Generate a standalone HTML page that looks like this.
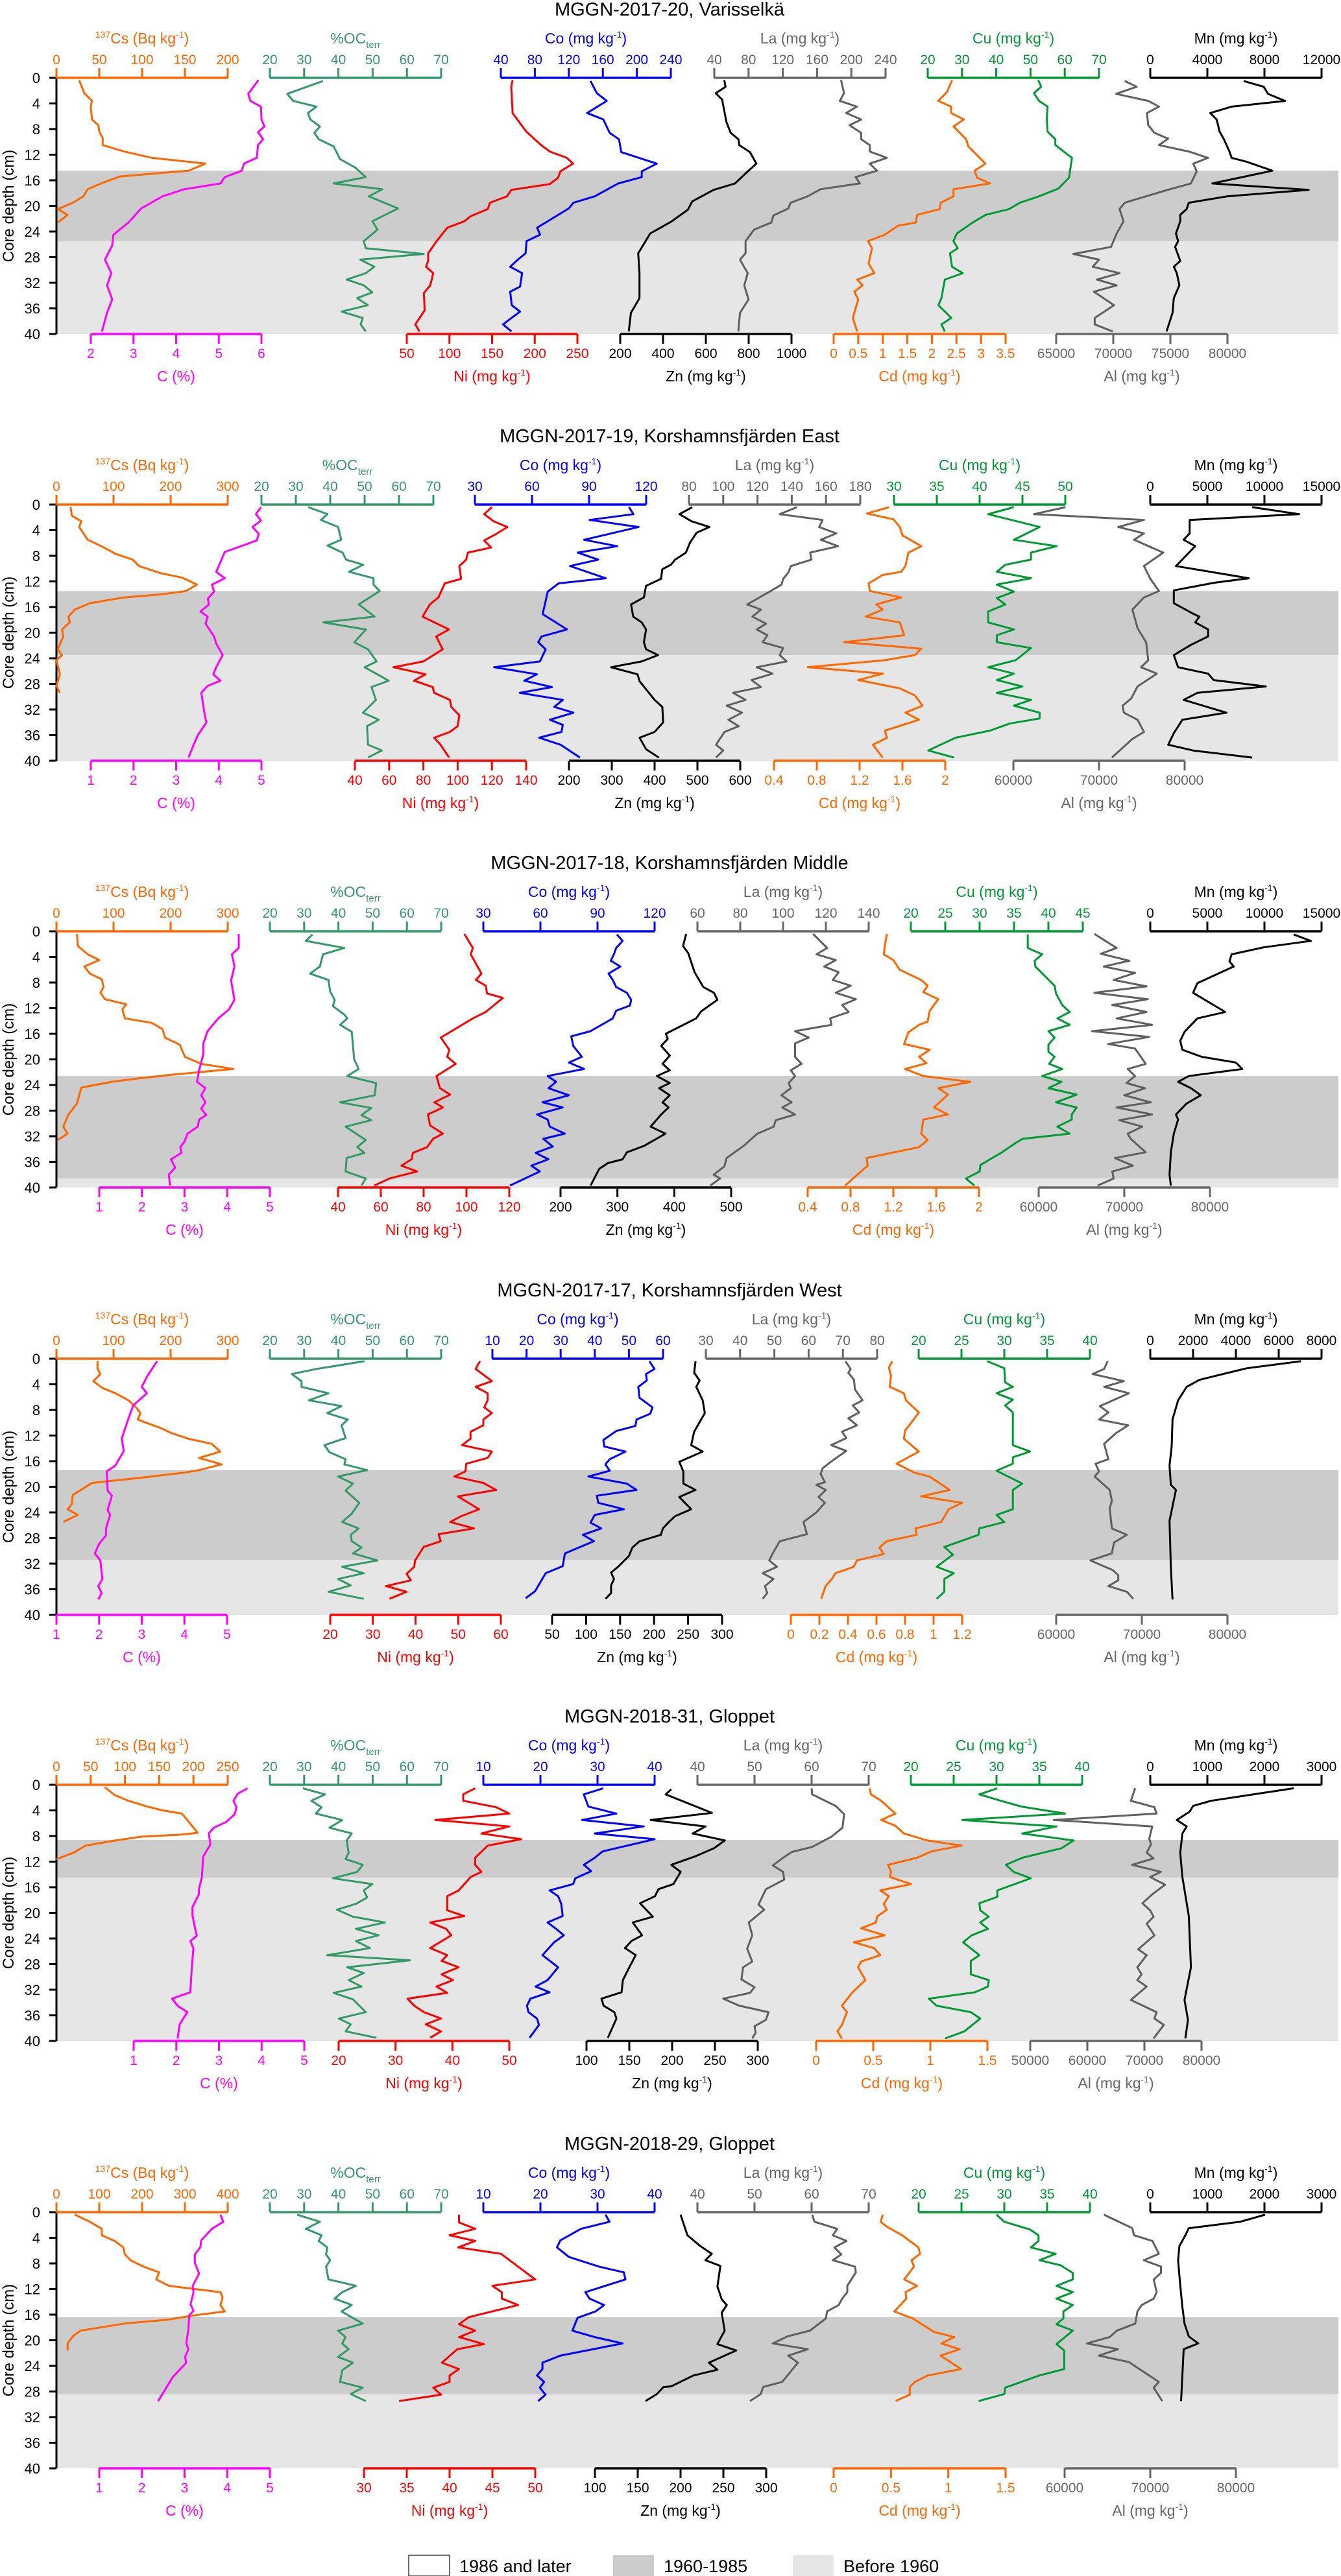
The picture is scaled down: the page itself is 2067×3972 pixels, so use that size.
<!DOCTYPE html>
<html><head><meta charset="utf-8"><title>Core profiles</title>
<style>
html,body{margin:0;padding:0;background:#fff;}
svg{display:block;}
text{font-family:"Liberation Sans",sans-serif;}
</style></head>
<body>
<svg id="chart" xmlns="http://www.w3.org/2000/svg" width="2067" height="3972" viewBox="0 0 2067 3972"></svg>
<script>
// ---------------- DATA (depth in cm, values in axis units) ----------------
// Panel 1 MGGN-2017-20
const P1_CS_D=[0.35,2.4,3.6,4.5,6.5,7.4,8.4,9.4,10.5,11.5,12.5,13.4,14.5,15.4,16.4,17.4,18.5,19.5,20.5,21.4,22.6];
const P1_CS_V=[26.5,32.5,41.5,40,41.5,49,50,54,54,79,111.5,174,154,74,54,36.5,31.5,19,1.5,13,1.5];
const P1_C_D=[0.35,2.5,3.6,4.5,6.5,7.6,8.5,9.6,10.5,12.5,13.4,14.5,15.5,16.5,17.4,18.5,20.4,22.6,24.5,26.2,28.4,30.5,32.4,34.6,36.7,39.6];
const P1_C_V=[5.93,5.69,5.74,5.99,6.0,6.07,5.92,6.04,5.92,5.89,5.59,5.54,5.14,5.04,4.19,3.68,3.18,2.88,2.53,2.5,2.33,2.48,2.38,2.5,2.38,2.26];
const P1_OC_D=[0.5,2.5,3.6,4.5,5.5,6.5,7.6,8.6,9.6,10.7,12.7,14,15.5,16.5,17.4,18.5,20.4,22.4,23.7,25.5,26.6,27.5,28.4,29.5,30.5,31.5,32.4,33.5,34.4,35.5,36.5,37.5,38.5,39.6];
const P1_OC_V=[35.5,25.1,26.8,33.6,31.1,31.8,34.6,33,34.3,38.6,40.5,44.9,48,38.6,52.8,48.9,57.4,49.9,51.4,47.4,48,64.9,46.4,50.5,48,42.4,47.4,49.9,45.5,48.6,40.9,47.1,46.5,48];
const P1_NI_D=[0.35,1.4,5.5,8.4,10.5,11.5,12.5,13.4,14.6,15.6,16.6,17.5,18.5,19.5,20.5,21.6,22.4,23.4,25.5,27.4,28.6,29.5,30.5,32.4,33.6,36.3,37.5,38.5,39.6];
const P1_NI_V=[174,172.5,174,190,207.5,217.5,237.5,245,230,227.5,217.5,172.5,167.5,147.5,145,125,117.5,97.5,85,75,75,72.5,81,77.5,70,71,65,60,65];
const P1_CO_D=[0.5,2.4,3.6,5.5,6.5,8.6,9.6,11.6,13.4,14.6,15.5,16.5,18.5,19.5,20.4,23.4,24.5,25.5,27.4,28.4,29.5,30.5,32.6,33.4,35.5,36.5,38.5,39.6];
const P1_CO_V=[145.5,153,164.6,141.5,160.6,168,179,181.7,223.4,205.8,205.8,178,150.5,125.4,120,82.7,86.2,70.2,69.1,60,51,65,62.6,51,52.8,62.6,42.5,52.5];
const P1_ZN_D=[0.35,1.4,2.4,3.4,6.9,8.6,9.6,10.5,11.6,13.4,14.6,16.5,17.5,19.3,20.6,22.5,24.3,27.4,30.5,34.4,36.7,39.6];
const P1_ZN_V=[686,692,646,676,696,716,752,756,806,836,796,736,636,536,516,436,340,284,290,290,250,240];
const P1_LA_D=[0.35,2.4,3.6,4.5,5.5,6.5,7.4,8.6,9.6,10.5,11.5,12.5,13.4,14.5,15.5,16.5,17.4,18.5,19.5,20.4,21.5,22.6,23.7,25.5,27.4,28.4,30.5,32.4,34.6,36.7,39.6];
const P1_LA_V=[188,191.5,186.5,206.5,194,211.5,198,211.5,211.5,221.5,221.5,241.5,221.5,230,205,210,164,149,129,126.5,109,106.5,86.5,76.5,76.5,70,79,75,80,70,68];
const P1_CU_D=[0.35,1.4,2.4,3.6,4.5,6.5,8.4,9.6,10.5,12.5,15.6,17.3,18.5,19.5,20.5,21.4,22.6,24.3,25.5,26.6,27.4,29.5,30.5,31.5,34.4,35.5,37.5,38.5,39.6];
const P1_CU_V=[52.25,53.1,51,52.5,55,54.75,55,57.25,57.25,62.1,61.25,58.1,52.5,46.9,43.75,36.9,33.1,28.5,27.5,28.75,26.5,27.1,30.25,25,24,23.1,26.9,24,25];
const P1_CD_D=[0.35,2.2,3.6,4.5,5.5,6.5,7.6,9.6,10.7,13.4,14.5,15.6,16.5,17.4,18.5,19.5,20.5,21.4,22.6,23.1,24.5,25.5,26.6,29,30.5,31.5,32.4,33.4,34.6,37.5,39.6];
const P1_CD_V=[2.41,2.31,2.13,2.39,2.39,2.65,2.44,2.7,2.74,3.09,2.87,2.92,3.18,2.44,2.44,2.18,2.16,1.7,1.67,1.31,1.04,0.7,0.78,0.71,0.83,0.48,0.59,0.42,0.5,0.39,0.48];
const P1_AL_D=[0.5,1.4,2.5,3.6,4.5,5.5,7.4,8.6,9.5,10.5,11.5,12.5,13.4,14.6,16.5,17.5,19.5,20.5,22.4,24.3,26.4,27.5,28.4,29.5,30.5,31.5,32.4,33.4,35.5,37.5,38.5,39.6];
const P1_AL_V=[71000,72050,70250,73060,74000,72950,73060,73600,74800,74000,76600,78300,77000,77300,76800,74750,71000,70550,70900,70300,69800,66500,68750,68200,70550,68560,70300,68300,70060,68375,68375,69950];
const P1_MN_D=[0.5,1.4,2.5,3.6,4.5,5.5,6.5,8.4,9.6,11.5,12.5,13.1,14.5,16.5,17.5,18.5,19.5,20.5,21.4,22.4,24.3,25.5,26.4,28.6,29.5,30.5,32.4,34.4,36.7,39.6];
const P1_MN_V=[6540,7950,8250,9450,5700,4200,4650,4860,5160,5550,5700,6750,8550,4350,11100,5400,2700,2550,2100,2100,1800,1950,1740,2100,1650,1860,2040,1650,1560,1140];

// Panel 2 MGGN-2017-19
const P2_CS_D=[0.4,1.75,2.6,3.5,5.5,6.6,7.7,8.6,9.6,10.7,11.4,12.5,13.5,14,14.5,15.4,16.4,17.5,18.4,19.5,20.6,22.6,23.5,24.3,26.5,28.3,29.4];
const P2_CS_V=[24.75,27,43.5,39.8,54.8,81,103.5,133.5,144.8,182,220,246,227,186,118.5,58.5,32,21,23.3,9.8,12,2.3,9.8,0,6,0,6];
const P2_C_D=[0.4,1.5,2.5,3.5,4.6,5.6,7.4,10.5,11.5,12.5,13.6,14.7,15.6,16.7,17.5,18.6,20.6,21.7,23.5,25.4,26.5,27.5,28.3,29.4,31.6,32.9,34,36,37.5,39.5];
const P2_C_V=[4.99,4.87,4.99,4.79,4.94,4.89,4.14,3.94,4.14,3.84,3.89,3.74,3.77,3.57,3.74,3.69,3.89,3.94,4.09,3.94,3.87,4.04,3.74,3.59,3.64,3.67,3.71,3.51,3.41,3.29];
const P2_OC_D=[0.4,1.5,2.4,3.5,5.5,6.4,7.5,8.6,9.4,10.5,11.5,12.5,13.5,15.6,17.5,18.4,19.5,21.5,22.6,24.5,25.4,27.5,28.5,30.5,32.5,33.6,34.6,37.5,38.4,39.5];
const P2_OC_V=[33.6,39.2,37.3,42.3,43.2,39.2,43.6,44.6,49.6,45.5,52.6,52.6,54.4,48.3,52.9,38,50.4,47,51,53.5,50,57,52,53.3,49.5,54.1,50.7,51,55,51];
const P2_NI_D=[0.4,1.5,2.6,3.5,4.6,5.6,6.7,7.5,8.6,9.6,11.6,12.3,14.5,15.6,17.5,19.5,20.6,22.6,24.5,25.4,26.5,27.5,28.5,29.4,30.5,31.6,32.9,34.6,35.5,36.4,37.5,39.5];
const P2_NI_V=[120,115.5,121,129,122.5,115.5,119.5,106,105,101,102,92.5,88.8,83.8,79.5,95,87.5,91.3,80,62.5,81.3,74.5,85.5,86.3,95.5,96.3,101,100,95.5,86.3,90,95];
const P2_CO_D=[0.4,1.5,2.4,3.5,5.5,6.5,7.5,8.6,9.6,11.5,12.3,13.6,17.1,19.5,20.6,21.5,22.6,24.5,25.4,26.5,27.5,28.5,29.4,30.5,31.6,32.5,33.6,34.4,35.5,36.4,37.5,39.5];
const P2_CO_V=[111,113.3,90.3,116,87.4,104.8,84,94.8,80,98.7,74,68.3,65.6,78.4,65,63.3,67.2,64.2,40.1,62.6,55.9,70.5,53.6,76.2,71.7,81.8,69.4,76.2,75.5,63.8,75,85.2];
const P2_ZN_D=[0.4,1.5,2.6,3.5,4.4,5.9,7.5,8.6,9.4,10.1,11.6,12.7,14.5,15.6,17.5,18.4,19.5,21.5,22.6,23.5,24.5,25.4,26.5,27.6,30.5,31.6,34,35.5,36.4,38.2,39.5];
const P2_ZN_V=[488,458,486,528,498,483,473,448,438,418,415,380,375,345,350,370,380,375,380,408,370,298,360,365,400,418,420,400,365,380,410];
const P2_LA_D=[0.4,1.5,2.4,3.5,4.5,5.5,6.5,7.5,8.6,9.6,10.6,11.6,12.5,13.6,15.6,16.4,17.5,18.6,19.5,20.4,21.5,22.4,23.5,24.5,25.4,26.4,27.4,28.5,29.4,30.5,31.4,32.5,33.6,34.6,35.5,37.5,38.4,39.5];
const P2_LA_V=[143,133,158,156,166,157,167,150.75,151.5,139.5,138,135,134,127,114,122,117,125,119.5,125.75,123,135,133,137,119.5,128.75,116.5,122,105.75,113,102,111,103,109,100.75,95.75,100,95.75];
const P2_CU_D=[0.4,1.5,3.5,5.5,6.5,7.5,8.6,9.4,10.5,11.5,12.5,13.6,14.6,15.6,16.7,18.4,19.5,20.4,21.5,22.4,24.3,25.4,26.4,27.4,28.4,29.4,30.5,31.4,32.5,33.4,34.2,35.3,36.4,38.4,39.5];
const P2_CU_V=[44,41,47,44,49,46,46,43,42,46,42,44,42,43,41,41,44,42,42,46,44.2,41,44,42,45,42,46,44,47,47,43.5,41.2,37.2,34,37];
const P2_CD_D=[0.4,1.4,2.3,3.5,4.8,6.5,7.5,9.6,10.5,11,12.3,13.5,14.5,15.6,16.4,17.5,18.4,20.4,21.5,22.5,23.5,24.3,25.4,26.4,27.4,28.7,29.8,31.4,32.5,33.6,35.3,36.4,37.5,39.5];
const P2_CD_V=[1.476,1.268,1.516,1.576,1.6,1.776,1.656,1.628,1.588,1.416,1.284,1.296,1.588,1.356,1.416,1.256,1.576,1.616,1.056,1.776,1.716,1.436,0.716,1.42,1.188,1.576,1.716,1.788,1.628,1.756,1.436,1.456,1.324,1.416];
const P2_AL_D=[0.4,1.5,2.4,3.5,4.5,5.5,7.5,9.6,11.6,13.5,14.5,16.4,19.3,21.5,24.3,25.4,26.4,28.4,30.3,31.4,32.5,33.6,35.5,36.6,39.5];
const P2_AL_V=[66100,62400,75250,72250,75250,74100,77500,75250,76000,77000,75250,73900,74500,75500,75750,74900,76750,74500,73750,72750,72900,74500,75250,73900,71500];
const P2_MN_D=[0.4,1.5,2.4,4.5,5.5,6.5,9.6,11.5,12.2,13.4,15.4,17.1,17.5,18.4,19.5,20.6,21.9,23.5,25.4,26.4,27.4,28.4,29.4,30.5,32.5,33.6,35.7,37.5,38.4,39.5];
const P2_MN_V=[8925,13050,3450,3450,2925,3940,2250,8625,5625,2060,2060,3825,4300,3940,5060,5060,3560,2060,2440,5060,5550,10125,4125,2925,6675,2810,2060,1575,3750,8925];

// Panel 3 MGGN-2017-18
const P3_CS_D=[0.4,2.3,3.6,4.5,5.5,6.6,7.5,8.7,9.6,10.6,11.4,12.2,13.6,14.3,15.3,16.6,17.7,19.6,20.7,21.5,22.4,23,23.5,24.4,26.9,28.6,30.5,31.6,32.6];
const P3_CS_V=[36,37.5,55,75,49,58.5,79.5,82.5,77,85,122,115.5,120,167,186,190,216,225,253.5,310,201,141,96,43.5,36,21,12,19.5,2.3];
const P3_C_D=[0.4,2.6,3.6,5.5,7.7,10.7,12.2,13.6,15.6,17.5,19.2,21.7,23.5,24.5,25.6,26.7,27.7,28.7,29.4,30.5,31.6,32.8,33.7,34.6,35.6,36.9,38,39.7];
const P3_C_V=[4.27,4.27,4.11,4.17,4.09,4.17,4.04,3.79,3.54,3.44,3.44,3.34,3.29,3.49,3.39,3.49,3.39,3.51,3.34,3.31,3.07,3.0,2.9,2.93,2.68,2.78,2.63,2.66];
const P3_OC_D=[0.5,1.5,2.6,3.6,5.5,6.6,7.6,9.4,10.7,11.7,13,13.6,14.6,15.7,20,21.5,22.6,23.7,25.6,26.7,27.6,28.7,29.5,30.5,32.6,33.7,34.6,35.4,37.5,38.6,39.7];
const P3_OC_V=[32.4,30.5,41.75,35.5,34.6,31.75,37.1,37.6,38.9,38.4,41.75,42.6,40.5,43.9,44.6,45.9,42.6,51,50.6,40.5,49.6,46.75,49.6,42.1,48,45.5,47.6,42.4,42.1,48,46.75];
const P3_NI_D=[0.4,2.6,3.6,6.6,7.6,8.5,9.7,10.4,12.6,13.6,16.6,18.5,19.6,20.7,22.6,24.5,25.5,26.7,27.5,28.6,30.3,31.6,32.4,33.7,34.6,35.6,36.6,37.5,38.6,39.7];
const P3_NI_V=[99,103,102,107,104.4,109,109.6,117,109,103,88,92,91,95,86,87.6,92.4,85,89,82,83,89,84.4,81.6,75,74.4,69.6,77,64,57];
const P3_CO_D=[0.5,1.5,2.6,3.6,4.6,5.5,6.6,7.6,8.7,9.6,10.7,11.6,12.4,13.6,15.6,16.4,17.9,19.6,20.5,21.5,22.6,23.5,24.5,25.6,26.7,27.5,28.6,29.4,30.5,31.6,32.4,33.6,34.6,35.6,36.6,37.5,39.7];
const P3_CO_V=[100.2,103.2,99.8,98.6,97,102,95.8,98,99.8,105.4,107.7,107,99.8,98,86.3,76.2,77.3,81.8,75,82.9,63.8,68.3,64.2,75,61.1,71.7,58.2,63.8,64.9,72.8,61.5,66.5,57.5,64.2,55.2,59.7,44];
const P3_ZN_D=[0.4,2.3,3.4,6.4,8.7,9.6,10.7,12.5,13.6,16,16.8,17.9,19.4,20.7,21.7,22.6,23.7,24.5,25.6,26.7,27.5,28.6,30.5,31.6,33.5,34.5,35.6,36.2,37.1,39.7];
const P3_ZN_V=[420.8,415.5,424.5,435.8,450.9,469.7,475.7,447.4,438.4,385,388.4,377,392,379.4,392,369.5,392,373.3,392,379.4,389.9,377,358.3,384.6,347,316.8,309.3,283,268,252.8];
const P3_LA_D=[0.4,2.6,3.6,4.5,5.5,6.4,7.6,8.5,9.6,10.6,11.5,12.6,13.6,14.6,15.6,16.6,17.5,19.6,20.7,21.7,22.6,23.7,24.5,25.6,26.7,27.5,28.6,29.5,30.5,31.6,33.5,35.4,36.7,38,38.6,39.7];
const P3_LA_V=[114,120.6,115.6,124.6,119.2,126,123.2,131.6,124.6,134,127.6,130.6,122,122.6,105.6,112,105.6,105.6,108.6,103.6,105.6,102.6,103.6,99.2,104,99.6,105.6,96.6,95.6,88,81.6,73.6,72.6,67.6,70.6,66];
const P3_CU_D=[0.5,2.6,3.6,4.6,5.5,8.5,9.7,11.5,12.6,13.6,14.6,15.6,16.6,17.7,18.8,19.6,20.7,21.5,22.6,23.5,24.5,25.5,26.7,27.5,28.6,29.4,30.5,31.6,32.4,33,34.6,36.5,37.5,38.6,39.7];
const P3_CU_V=[37,37,39.1,38,38.1,40.9,41.1,42,43.1,41.3,43.1,40,40.9,40,40,40.9,40.1,42,39.1,41.9,40,44.1,41.1,44.1,43.4,43.4,41.3,43.1,36.25,35.3,33.1,30.1,30,28,29.25];
const P3_CD_D=[0.4,2.3,3.6,4.5,6,7.6,8.5,9.5,10.6,12.4,14.1,14.6,15.8,17.6,18.5,19.6,20.6,21.5,22.6,23.5,24.5,25.5,27.5,28.6,29.4,31.6,32.6,33.7,35.4,36.6,38.2,39.7];
const P3_CD_V=[1.14,1.12,1.11,1.2,1.26,1.46,1.52,1.48,1.62,1.54,1.52,1.44,1.34,1.3,1.54,1.44,1.51,1.31,1.48,1.92,1.62,1.71,1.58,1.71,1.48,1.46,1.52,1.44,0.95,0.96,0.85,0.75];
const P3_AL_D=[0.4,2.6,3.5,4.6,5.5,6.5,7.6,8.6,9.6,10.6,11.5,12.6,13.6,14.6,15.6,16.5,17.6,18.3,20.7,21.5,22.6,23.7,24.5,25.6,26.7,27.5,28.6,29.5,30.5,31.6,32.4,34.5,35.4,36.6,37.5,38.6,39.7];
const P3_AL_V=[66500,69100,67250,70600,67600,71250,68750,72600,66500,72750,68600,72600,69100,73250,66250,72900,68100,71250,72500,70400,71250,70250,72400,70000,73100,69100,73250,69400,72100,70400,70750,72500,68900,71000,68600,68750,66900];
const P3_MN_D=[0.5,1.5,2.5,3.6,4.7,5.5,8.1,9.6,12.6,13.6,15.7,17.1,18.5,19.6,20.5,21.5,22.6,23.5,24.5,25.6,26.9,28.6,29.4,31.6,34.5,38,39.7];
const P3_MN_V=[12560,14060,9940,7125,6940,7310,4125,3750,6560,4125,3000,2625,2810,4500,7500,8060,3375,2440,3560,4425,3190,2250,2440,2060,1800,1690,1800];

// Panel 4 MGGN-2017-17
const P4_CS_D=[0.4,1.6,2.4,3.5,4.6,5.4,6.5,7.6,8.5,9.5,10.1,10.8,11.6,12.5,13.3,14.5,15.5,16.5,17.4,17.8,18.5,19.4,21.3,22.7,23.5,24.4,25.5];
const P4_CS_V=[72,72,77,64.5,81,103.5,126,139.5,147,142.5,159.8,182,201,231,272,287,249.8,289.5,249.8,223.5,156,62.3,28.5,27,19.5,37.5,12];
const P4_C_D=[0.4,2.6,4.4,5.4,7.3,9.5,12.5,14.4,16.7,17.6,20.6,21.4,23.6,24.4,26.5,27.6,28.9,30.4,31.5,33.4,34.4,35.5,36.6,37.6];
const P4_C_V=[3.36,3.14,3.0,3.12,2.8,2.68,2.53,2.58,2.38,2.18,2.2,2.3,2.2,2.26,2.16,2.16,2.0,1.9,2.03,2.06,2.08,1.98,2.06,1.98];
const P4_OC_D=[0.4,1.6,2.4,3.5,4.4,5.4,6.5,7.4,8.5,9.5,10.4,12.4,13.5,14.6,15.7,16.5,17.4,18.4,19.5,20.6,22.5,24.2,25.5,26.5,27.5,28.5,29.5,30.4,31.5,32.5,33.5,34.4,35.4,36.4,37.5];
const P4_OC_V=[47.6,33.6,26.4,29.25,29.25,37.1,31.4,40.9,36.75,42.75,40.9,42.1,35.9,37.4,42.1,41.75,48.4,39.9,44.25,42.1,46.1,43.9,41.1,45.9,43.6,43.9,46.75,44.25,51.4,41.1,47.4,39.9,43.6,37.1,47.4];
const P4_NI_D=[0.4,1.6,3.5,4.4,5.4,6.5,7.6,8.5,9.5,10.4,11.4,12.5,13.5,14.5,15.5,16.4,17.6,18.4,19.4,20.5,21.5,23.5,24.6,25.5,26.5,27.4,28.5,29.4,31.5,32.5,33.6,34.6,35.5,36.4,37.5];
const P4_NI_V=[55.1,54.1,57.9,54.1,56.9,56.9,56.1,57.9,55.9,55.9,52.9,52.9,50.9,57.9,56.9,51.9,51.7,49.1,55.9,58.9,49.9,54.9,50.7,48.1,53.7,45.4,45.9,41.9,39.9,39.7,37.9,38.9,33.1,37.9,33.9];
const P4_CO_D=[0.4,1.6,2.4,3.4,4.4,6.1,7.6,8.6,9.5,10.5,11.3,12.7,13.7,14.5,15.7,16.5,17.5,18.4,19.5,20.5,21.4,22.5,23.5,24.4,25.6,26.5,27.5,28.5,30.4,32.4,33.5,36.3,37.4];
const P4_CO_V=[56,57.5,55,55.25,52.75,53.1,56.9,56.25,52.25,51.9,46.25,42.5,42.75,49,44.4,43.1,44.4,38.1,49.4,52.25,40.6,41,48.5,40,38.75,41.9,36.5,39.75,31.25,30.6,25.6,22.5,19.75];
const P4_ZN_D=[0.4,2.2,3.4,4.4,6.5,8.5,11.4,13.5,14.5,16.1,17.6,19.5,20.5,21.6,23.5,24.6,25.4,26.5,27.5,28.5,29.5,30.8,32.5,33.4,34.4,35.4,36.6,37.5];
const P4_ZN_V=[261,259,267,262,271.5,274.6,259,254.6,271.5,237,243,243,261,237,254.6,230.8,222.7,213,210,178.8,168,163,147,136.7,141,136.7,136.7,128.5];
const P4_LA_D=[0.4,1.6,2.2,3.3,4.8,6.5,7.3,8.4,9.3,10.4,11.4,12.4,13.5,14.4,15.8,17.1,18,19.3,19.7,20.5,21.6,22.5,24,25.5,27.4,28.5,30.4,31.5,32.5,33.5,34.4,35.5,36.6,37.5];
const P4_LA_V=[70.75,72.25,71.6,73.25,73.5,75.75,72.9,74.75,71.6,74.1,69.75,71,66.6,71,67.25,64.1,63.5,64.75,62.25,65,62.9,64.75,62.25,58.5,59.5,51.6,49.5,48.5,50.75,46.6,49.75,47.25,47.9,46.6];
const P4_CU_D=[0.4,1.5,3.7,4.4,5.4,6.4,7.3,8.4,13.5,14.5,15.4,16.4,17.5,19.5,20.5,23.5,24.4,25.5,26.5,27.5,29.4,30.6,32.5,33.5,34.4,36.4,37.5];
const P4_CU_V=[28,30,30.1,31,29.1,31,30.1,31,31,33,31,31,29.1,32.1,31,31,29.1,30,27.1,27,23,24,22.1,24.1,23,23,22.1];
const P4_CD_D=[0.4,1.4,2.6,4.4,5.4,6.5,8.4,9.5,11.2,12.5,14.5,16.4,17.8,18.4,20.5,21.5,22.5,23.5,25.5,26.5,27.5,28.5,29.5,30.5,31.5,32.5,33.5,34.3,35.5,37.5];
const P4_CD_V=[0.711,0.687,0.702,0.693,0.792,0.807,0.897,0.861,0.801,0.792,0.897,0.741,0.867,0.972,1.113,0.912,1.2,1.107,1.053,0.873,0.882,0.672,0.621,0.651,0.462,0.441,0.312,0.291,0.243,0.213];
const P4_AL_D=[0.4,1.6,2.4,3.5,4.4,5.4,7.4,8.4,9.5,10.4,11.6,13.3,15.7,16.4,17.6,18.4,20.5,22.2,23.3,26.5,27.5,28.7,30.4,31.5,33,33.8,34.6,35.5,36.4,37.5];
const P4_AL_V=[66000,65600,64250,67900,65600,68500,65100,66100,65000,68400,67000,65600,66100,64600,65000,64500,66250,66500,66250,66500,68250,66750,66500,64000,66600,67250,67250,66100,68250,69000];
const P4_MN_D=[0.4,1.5,3.3,4.4,6.5,9.5,13.7,16.7,19.7,20.5,25.3,32.5,37.6];
const P4_MN_V=[7040,4500,2300,1700,1300,1040,1000,900,960,1200,900,960,1040];

// Panel 5 MGGN-2018-31
const P5_CS_D=[0.4,1.6,2.5,3.4,4,4.5,5.5,7.5,7.8,8.1,8.7,9.1,9.5,10.6,11.6];
const P5_CS_V=[70.6,85,105,133,155,183,191,206,180,124,86,64,42.5,25,0];
const P5_C_D=[0.55,1.4,2.5,3.5,4.6,5.8,6.7,7.6,9.3,11.2,14.4,16.3,17.1,19.1,20.4,22.1,23.6,24.4,25.5,28.9,32.4,33.4,34.5,35.5,37.4,39.6];
const P5_C_V=[3.67,3.44,3.34,3.41,3.37,3.17,2.88,2.76,2.8,2.63,2.6,2.53,2.53,2.38,2.38,2.43,2.48,2.33,2.4,2.36,2.33,1.9,2.03,2.26,2.08,2.03];
const P5_OC_D=[0.55,1.5,2.5,3.5,4.5,5.5,6.7,7.6,8.7,10.6,11.6,12.5,13.6,14.6,15.5,16.5,17.6,18.6,19.5,20.6,21.5,22.5,23.5,24.4,25.5,26.6,27.4,28.5,29.4,30.5,31.5,32.5,33.5,35.5,36.5,37.4,38.5,39.5];
const P5_OC_V=[29.6,36.1,32.1,35.1,33.4,41.1,37.4,43.9,42.4,43,42.1,47.1,45.5,38.4,49.9,47.4,48.4,45.1,39.6,44.25,53.6,45.1,51.75,45.1,49.25,36.75,60.9,42.6,47.4,43,46.75,38.6,44.25,48,40.1,43.6,42.1,51.1];
const P5_NI_D=[0.55,1.5,2.5,3.5,4.5,5.5,6.5,7.6,8.5,9.5,11.4,12.5,13.6,14.4,16.5,17.4,19.6,20.5,21.5,22.5,23.5,25.5,26.6,27.5,28.5,29.6,30.5,31.5,32.5,33.4,34.5,35.5,36.5,37.4,38.5,39.5];
const P5_NI_V=[44,41.9,41.9,47.7,50,37,50,45.1,52.1,46.2,44,44,45.1,43.2,41.1,39.1,39.1,42.1,36.1,38.9,39.8,36.1,39.1,38.1,41.1,38.1,40.1,37.2,39.1,32.1,33.3,35,38,35.3,38,36.1];
const P5_CO_D=[0.55,1.5,3.4,4.5,5.5,6.5,7.6,8.5,10.4,11.4,12.5,13.5,14.6,15.5,16.5,17.4,18.6,20.5,21.5,22.5,23.5,24.6,26.6,28.5,30.5,31.5,32.4,33.4,34.5,35.5,36.5,37.5,39.5];
const P5_CO_V=[31,27.6,28.4,33.3,27.3,38.1,29.5,40,30.9,29.5,27.6,28.9,26.1,25.75,21.6,23.1,23.65,23.9,21.25,22.75,24.1,22.4,20.35,23.1,21.25,19.15,21.6,18.25,17.65,17.9,19.4,19.75,18.1];
const P5_ZN_D=[0.7,1.5,4.4,5.5,6.5,7.6,8.7,9.9,11.2,12.5,13.6,15.5,16.3,17.4,18.5,20.6,21.5,23.5,24.4,25.5,26.6,28.5,30.5,32.4,33.4,34.5,35.5,36.5,39.5];
const P5_ZN_V=[199,192.5,246.5,175,239,224,261.5,249,226.5,199,210,201.5,184,180,162.5,177.5,154,165,152.5,145,157.5,150,142.5,141,117.5,120,132.5,135,125];
const P5_LA_D=[0.55,1.5,3.3,4.6,6.7,8.1,9.7,10.5,11.4,12.6,13.6,14.8,16.3,18.7,19.5,21.5,23.5,25.6,27.6,28.5,30.4,31.6,32.5,33.4,34.5,35.5,36.7,37.7,38.7,39.6];
const P5_LA_V=[60,60.1,64.2,65.7,65.4,63.5,60.1,56.5,55,53.2,55,55.2,52,50.7,51.7,49,49.6,48.7,49.6,48,47.7,50,49.2,44.5,47.35,52.45,52,50,50.2,49.6];
const P5_CU_D=[0.55,1.5,2.5,3.4,4.5,5.5,6.5,7.6,8.7,9.9,11.4,12.5,13.6,14.6,16.5,17.5,18.5,19.6,20.6,21.5,22.5,23.5,24.6,26.6,27.5,29.6,30.5,31.5,32.4,33.4,34.5,35.5,36.5,38.5,39.6];
const P5_CU_V=[30.1,28,30.5,32.9,38,26,37,33,39,37.6,33,31.1,32,34,30.1,30.1,28,28.1,29.1,28.1,29,27.1,26.1,28,27,27,29.1,29,27.5,22.1,23,27,28.1,26.25,24];
const P5_CD_D=[0.55,1.5,2.5,4.5,5.5,6.4,7.6,8.7,9.5,10.4,11.4,12.5,13.6,14.4,15.5,16.5,17.4,18.6,19.5,20.6,21.5,22.4,23.5,24.6,25.5,26.6,27.6,28.5,30.5,32.4,34.5,35.5,37.5,38.5,39.6];
const P5_CD_V=[0.469,0.48,0.57,0.694,0.57,0.694,0.769,0.975,1.275,1.01,0.881,0.63,0.656,0.645,0.832,0.562,0.637,0.592,0.619,0.532,0.525,0.394,0.6,0.33,0.506,0.562,0.394,0.367,0.431,0.319,0.225,0.27,0.225,0.187,0.225];
const P5_AL_D=[0.55,2.5,3.5,4.5,5.5,6.5,8.4,9.3,10.6,11.5,12.5,13.6,14.4,15.6,17.1,18.5,19.6,20.6,21.7,23.5,25.7,26.6,28.5,29.6,30.5,31.5,33.6,35.5,36.5,37.5,39.6];
const P5_AL_V=[68375,67625,71750,72125,54125,71375,70850,71150,70400,71600,67850,72875,71000,73625,71375,69650,71000,71600,70400,71750,68900,70400,68750,69500,68750,70400,67625,72125,71750,73400,71600];
const P5_MN_D=[0.55,2.5,3.3,4.2,5.5,6.5,7.6,10.6,14.4,20.5,28.5,33.6,36.7,39.6];
const P5_MN_V=[2512,1065,750,690,465,637,562,525,562,675,712,600,660,615];

// Panel 6 MGGN-2018-29
const P6_CS_D=[0.4,1.5,2.6,3.6,4.5,5.5,6.6,7.5,8.5,9.4,10.5,11.5,12.5,13.3,14.5,15.5,16.1,16.8,17.4,18.5,19.4,20.5,21.6];
const P6_CS_V=[43,78,106,106,136,156,160,173,203,240,233,263,383,388,383,393,323,258,158,56,38,26,26];
const P6_C_D=[0.4,1.5,2.6,4.4,5.5,6.6,7.9,9.6,11.5,12.5,14.4,15.4,16.1,18.3,20.5,21.4,22.6,23.5,25.7,29.5];
const P6_C_V=[3.84,3.91,3.64,3.39,3.37,3.24,3.24,3.34,3.19,3.21,3.14,3.21,3.11,3.09,3.04,3.09,3.01,3.04,2.73,2.38];
const P6_OC_D=[0.4,1.5,2.6,3.6,4.5,5.5,6.6,7.5,8.5,10.5,11.5,12.5,13.5,14.5,15.5,17.4,18.5,19.5,20.5,21.4,22.6,23.5,24.7,26.5,27.4,28.4,29.5];
const P6_OC_V=[28,34.6,30.5,35.1,34.25,36.75,36.4,37.6,36.4,37.1,45.1,41.1,38.9,43.9,40.9,47.1,39.9,42.1,41.1,43,39.9,44.25,41.1,40.5,47.1,43.6,48];
const P6_NI_D=[0.4,1.6,2.6,3.6,4.5,5.5,6.5,10.5,11.5,12.5,13.5,14.5,16.4,17.5,18.5,19.5,20.6,21.4,23.5,24.5,25.5,26.5,27.4,28.5,29.5];
const P6_NI_V=[41.1,41.1,43,40,43,41,46,50,45,46.1,46.1,48,42.25,41.1,43,41.1,44,40.9,39.1,41.1,40,40,38.1,39,34.1];
const P6_CO_D=[0.4,1.5,2.6,4.4,5.5,7,8.5,9.4,10.5,12.5,13.5,14.5,15.5,16.5,18.5,19.5,20.5,22.4,23.5,24.5,25.5,26.5,27.4,28.5,29.5];
const P6_CO_V=[31.4,32.1,27.1,23.5,22.9,25,30.25,34.6,34.9,27.85,28.6,31.15,29.65,26.5,25.6,29.5,34.4,23.5,20.35,20.35,19.4,20.65,19.9,20.9,19.6];
const P6_ZN_D=[0.4,3.6,5.3,6.5,7.5,8.4,11.6,13.6,14.5,15.7,18.5,20.6,21.6,23.5,24.6,25.5,27.2,27.3,28.4,29.5];
const P6_ZN_V=[200,208,223,236.5,229,246.5,243,248,254,248,251.5,243,265,233,243,215,189,180,172.5,159];
const P6_LA_D=[0.4,1.5,2.6,3.6,4.5,5.5,6.6,7.5,8.5,9.4,11.5,12.5,13.5,14.5,15.5,16.6,18.5,19.4,20.5,21.4,22.4,23.5,26.5,27.3,28.4,29.5];
const P6_LA_V=[60.1,60.5,64.5,63.7,66.1,64,65.2,63.7,67.6,67.75,66.25,66.25,65.35,64.75,62.7,62.5,59.7,55.75,53.2,59.35,55.9,57.6,54.85,51.5,51.1,49.2];
const P6_CU_D=[0.4,1.5,2.7,3.6,4.5,5.5,6.5,7.5,8.3,9.5,10.5,11.5,12.5,13.5,14.5,15.5,16.6,17.5,18.5,20.6,21.6,24.5,25.5,27.4,28.4,29.5];
const P6_CU_V=[29.1,30,33,34,34,33.1,36,34.1,36.6,38,38,36.1,38,36.1,38,36.9,36.9,36.1,38,36.1,37,37,34.1,30.1,30,27];
const P6_CD_D=[0.4,1.5,2.3,3.6,5.5,6.5,7.5,8.5,10.5,11.5,12.5,13.5,15.5,16.6,18.7,19.5,20.5,21.4,22.4,24.5,25.5,26.5,27.3,28.5,29.5];
const P6_CD_V=[0.429,0.41,0.466,0.597,0.739,0.754,0.679,0.701,0.616,0.728,0.627,0.634,0.53,0.69,0.877,1.052,0.94,1.1,0.933,1.112,0.821,0.709,0.664,0.664,0.541];
const P6_AL_D=[0.4,2.5,3.6,4.5,6.5,7.5,8.5,9.5,10.5,12.5,13.5,14.5,15.5,17.4,18.5,19.5,20.5,21.4,22.4,23.4,26.5,27.4,29.5];
const P6_AL_V=[64600,67900,68100,70250,71000,69250,71250,71250,70400,70750,70400,69000,68500,68250,66100,65250,62600,66250,64000,67500,71000,70400,71400];
const P6_MN_D=[0.4,1.5,2.5,3.6,5.3,7.5,11.4,14.8,17.4,19.4,20.5,21.4,29.5];
const P6_MN_V=[2010,1575,675,615,510,487,525,562,600,675,840,585,540];

// Tick label arrays
const DEPTH_TICKS=[0,4,8,12,16,20,24,28,32,36,40];
const OC_TICKS=[20,30,40,50,60,70];
const PANEL_TITLES=["MGGN-2017-20, Varisselkä","MGGN-2017-19, Korshamnsfjärden East","MGGN-2017-18, Korshamnsfjärden Middle","MGGN-2017-17, Korshamnsfjärden West","MGGN-2018-31, Gloppet","MGGN-2018-29, Gloppet"];
const SHADE_DARK=[[14.5,25.5],[13.5,23.5],[22.6,38.6],[17.4,31.4],[8.6,14.5],[16.4,28.4]];
const LEGEND_LABELS=["1986 and later","1960-1985","Before 1960"];

// ---------------- LAYOUT ----------------
const COL={cs:"#ff6600",c:"#ff00ff",oc:"#339966",co:"#0000ff",ni:"#ff0000",zn:"#000000",la:"#666666",cu:"#009933",cd:"#ff6600",al:"#666666",mn:"#000000"};
const LINECOL={cs:"#ff6600",c:"#ff00ff",oc:"#339966",co:"#0000ff",ni:"#ff0000",zn:"#000000",la:"#5f5f5f",cu:"#009933",cd:"#ff6600",al:"#5f5f5f",mn:"#000000"};
const TITLES={cs:["",["137","sup"],["Cs (Bq kg",""],["-1","sup"],[")",""]],oc:[["%OC",""],["terr","sub"]],co:"Co",la:"La",cu:"Cu",mn:"Mn",c:"C (%)",ni:"Ni",zn:"Zn",cd:"Cd",al:"Al"};
const POS={cs:"top",oc:"top",co:"top",la:"top",cu:"top",mn:"top",c:"bottom",ni:"bottom",zn:"bottom",cd:"bottom",al:"bottom"};

function rng(a,b,s){const r=[];for(let v=a;v<=b+1e-9;v+=s)r.push(Math.round(v*1000)/1000);return r;}
const PANELS=[
 {y0:120,ax:{cs:[87,351,rng(0,200,50)],oc:[416,680,OC_TICKS],co:[772,1034,rng(40,240,40)],la:[1101,1365,rng(40,240,40)],cu:[1430,1694,rng(20,70,10)],mn:[1773,2037,rng(0,12000,4000)],c:[140,403,rng(2,6,1)],ni:[627,890,rng(50,250,50)],zn:[956,1220,rng(200,1000,200)],cd:[1285,1550,rng(0,3.5,0.5)],al:[1628,1892,rng(65000,80000,5000)]}},
 {y0:778,ax:{cs:[87,351,rng(0,300,100)],oc:[403,668,OC_TICKS],co:[732,996,rng(30,120,30)],la:[1062,1326,rng(80,180,20)],cu:[1378,1642,rng(30,50,5)],mn:[1773,2037,rng(0,15000,5000)],c:[140,403,rng(1,5,1)],ni:[547,811,rng(40,140,20)],zn:[877,1141,rng(200,600,100)],cd:[1193,1457,rng(0.4,2,0.4)],al:[1562,1826,rng(60000,80000,10000)]}},
 {y0:1436,ax:{cs:[87,351,rng(0,300,100)],oc:[416,680,OC_TICKS],co:[745,1009,rng(30,120,30)],la:[1075,1339,rng(60,140,20)],cu:[1404,1669,rng(20,45,5)],mn:[1773,2037,rng(0,15000,5000)],c:[153,416,rng(1,5,1)],ni:[521,785,rng(40,120,20)],zn:[864,1127,rng(200,500,100)],cd:[1245,1509,rng(0.4,2,0.4)],al:[1601,1865,rng(60000,80000,10000)]}},
 {y0:2095,ax:{cs:[87,351,rng(0,300,100)],oc:[416,680,OC_TICKS],co:[759,1022,rng(10,60,10)],la:[1088,1352,rng(30,80,10)],cu:[1416,1680,rng(20,40,5)],mn:[1773,2037,rng(0,8000,2000)],c:[87,350,rng(1,5,1)],ni:[509,772,rng(20,60,10)],zn:[851,1113,rng(50,300,50)],cd:[1219,1483,rng(0,1.2,0.2)],al:[1628,1892,rng(60000,80000,10000)]}},
 {y0:2752,ax:{cs:[87,351,rng(0,250,50)],oc:[416,680,OC_TICKS],co:[745,1009,rng(10,40,10)],la:[1075,1339,rng(40,70,10)],cu:[1404,1668,rng(20,40,5)],mn:[1773,2037,rng(0,3000,1000)],c:[206,469,rng(1,5,1)],ni:[522,785,rng(20,50,10)],zn:[904,1168,rng(100,300,50)],cd:[1258,1522,rng(0,1.5,0.5)],al:[1588,1852,rng(50000,80000,10000)]}},
 {y0:3411,ax:{cs:[87,351,rng(0,400,100)],oc:[416,680,OC_TICKS],co:[745,1009,rng(10,40,10)],la:[1075,1339,rng(40,70,10)],cu:[1416,1680,rng(20,40,5)],mn:[1773,2037,rng(0,3000,1000)],c:[153,416,rng(1,5,1)],ni:[561,825,rng(30,50,5)],zn:[917,1181,rng(100,300,50)],cd:[1285,1550,rng(0,1.5,0.5)],al:[1641,1905,rng(60000,80000,10000)]}}
];
const DATA=[
 {cs:[P1_CS_D,P1_CS_V],c:[P1_C_D,P1_C_V],oc:[P1_OC_D,P1_OC_V],ni:[P1_NI_D,P1_NI_V],co:[P1_CO_D,P1_CO_V],zn:[P1_ZN_D,P1_ZN_V],la:[P1_LA_D,P1_LA_V],cu:[P1_CU_D,P1_CU_V],cd:[P1_CD_D,P1_CD_V],al:[P1_AL_D,P1_AL_V],mn:[P1_MN_D,P1_MN_V]},
 {cs:[P2_CS_D,P2_CS_V],c:[P2_C_D,P2_C_V],oc:[P2_OC_D,P2_OC_V],ni:[P2_NI_D,P2_NI_V],co:[P2_CO_D,P2_CO_V],zn:[P2_ZN_D,P2_ZN_V],la:[P2_LA_D,P2_LA_V],cu:[P2_CU_D,P2_CU_V],cd:[P2_CD_D,P2_CD_V],al:[P2_AL_D,P2_AL_V],mn:[P2_MN_D,P2_MN_V]},
 {cs:[P3_CS_D,P3_CS_V],c:[P3_C_D,P3_C_V],oc:[P3_OC_D,P3_OC_V],ni:[P3_NI_D,P3_NI_V],co:[P3_CO_D,P3_CO_V],zn:[P3_ZN_D,P3_ZN_V],la:[P3_LA_D,P3_LA_V],cu:[P3_CU_D,P3_CU_V],cd:[P3_CD_D,P3_CD_V],al:[P3_AL_D,P3_AL_V],mn:[P3_MN_D,P3_MN_V]},
 {cs:[P4_CS_D,P4_CS_V],c:[P4_C_D,P4_C_V],oc:[P4_OC_D,P4_OC_V],ni:[P4_NI_D,P4_NI_V],co:[P4_CO_D,P4_CO_V],zn:[P4_ZN_D,P4_ZN_V],la:[P4_LA_D,P4_LA_V],cu:[P4_CU_D,P4_CU_V],cd:[P4_CD_D,P4_CD_V],al:[P4_AL_D,P4_AL_V],mn:[P4_MN_D,P4_MN_V]},
 {cs:[P5_CS_D,P5_CS_V],c:[P5_C_D,P5_C_V],oc:[P5_OC_D,P5_OC_V],ni:[P5_NI_D,P5_NI_V],co:[P5_CO_D,P5_CO_V],zn:[P5_ZN_D,P5_ZN_V],la:[P5_LA_D,P5_LA_V],cu:[P5_CU_D,P5_CU_V],cd:[P5_CD_D,P5_CD_V],al:[P5_AL_D,P5_AL_V],mn:[P5_MN_D,P5_MN_V]},
 {cs:[P6_CS_D,P6_CS_V],c:[P6_C_D,P6_C_V],oc:[P6_OC_D,P6_OC_V],ni:[P6_NI_D,P6_NI_V],co:[P6_CO_D,P6_CO_V],zn:[P6_ZN_D,P6_ZN_V],la:[P6_LA_D,P6_LA_V],cu:[P6_CU_D,P6_CU_V],cd:[P6_CD_D,P6_CD_V],al:[P6_AL_D,P6_AL_V],mn:[P6_MN_D,P6_MN_V]}
];

// ---------------- RENDER ----------------
const NS="http://www.w3.org/2000/svg";
const svg=document.getElementById("chart");
const PXCM=395/40;
function el(tag,attrs,parent){const e=document.createElementNS(NS,tag);for(const k in attrs)e.setAttribute(k,attrs[k]);(parent||svg).appendChild(e);return e;}
function yScale(p,d){return PANELS[p].y0+d*PXCM;}
function xScale(a,v){const t=a[2];const lo=t[0],hi=t[t.length-1];return a[0]+(v-lo)/(hi-lo)*(a[1]-a[0]);}

function axisTitle(key,x,y,col,g){
  const t=el("text",{x:x,y:y,"text-anchor":"middle",fill:col,"font-size":"23"},g);
  
  
  const spec=TITLES[key];
  const parts=[];
  if(key==="cs"){parts.push(["137","sup"],["Cs (Bq kg",""],["-1","sup"],[")",""]);}
  else if(key==="oc"){parts.push(["%OC",""],["terr","sub"]);}
  else if(key==="c"){parts.push(["C (%)",""]);}
  else {parts.push([spec+" (mg kg",""],["-1","sup"],[")",""]);}
  let shift=0;
  parts.forEach(pt=>{
    const s=el("tspan",{},t);
    if(pt[1]==="sup"){s.setAttribute("font-size","14");s.setAttribute("dy",String(-9-shift));shift=-9;}
    else if(pt[1]==="sub"){s.setAttribute("font-size","15");s.setAttribute("dy",String(7-shift));shift=7;}
    else {if(shift!==0){s.setAttribute("dy",String(-shift));shift=0;}}
    s.textContent=pt[0];
  });
}

PANELS.forEach((P,pi)=>{
  const g=el("g",{});
  
  
  const y0=P.y0,y40=yScale(pi,40);
  // shading
  const sd=SHADE_DARK[pi];
  const lt=el("rect",{x:87,y:yScale(pi,sd[1]),width:1976,height:y40-yScale(pi,sd[1]),fill:"#e6e6e6"},g);
  
  
  const dk=el("rect",{x:87,y:yScale(pi,sd[0]),width:1976,height:yScale(pi,sd[1])-yScale(pi,sd[0]),fill:"#cccccc"},g);
  
  
  // title
  const tt=el("text",{x:1032,y:y0-96,"text-anchor":"middle",fill:"#000","font-size":"29"},g);
  
  
  tt.textContent=PANEL_TITLES[pi];
  // depth axis
  const da=el("line",{x1:87,y1:y0,x2:87,y2:y40,stroke:"#000","stroke-width":3},g);
  
  
  DEPTH_TICKS.forEach(d=>{
    const yy=yScale(pi,d);
    const tk=el("line",{x1:76,y1:yy,x2:87,y2:yy,stroke:"#000","stroke-width":3},g);
    
    
    const tl=el("text",{x:62,y:yy+8,"text-anchor":"end",fill:"#000","font-size":"22"},g);
    
    
    tl.textContent=String(d);
  });
  const dt=el("text",{x:0,y:0,"text-anchor":"middle",fill:"#000","font-size":"24",transform:"translate(21,"+((y0+y40)/2)+") rotate(-90)","font-family":"DejaVu Sans, sans-serif"},g);
  
  
  dt.textContent="Core depth (cm)";
  // value axes
  Object.keys(P.ax).forEach(key=>{
    const a=P.ax[key];const col=COL[key];const top=POS[key]==="top";
    const ay=top?y0:y40;
    const ag=el("g",{},g);
    
    
    el("line",{x1:a[0],y1:ay,x2:a[1],y2:ay,stroke:col,"stroke-width":3.5},ag);
    a[2].forEach(v=>{
      const xx=xScale(a,v);
      const tk=el("line",{x1:xx,y1:ay,x2:xx,y2:top?ay-15:ay+15,stroke:col,"stroke-width":3},ag);
      
      
      const tl=el("text",{x:xx,y:top?ay-21:ay+37,"text-anchor":"middle",fill:col,"font-size":"21"},ag);
      
      
      tl.textContent=String(v);
    });
    axisTitle(key,(a[0]+a[1])/2,top?ay-53:ay+73,col,ag);
    // series
    const D=DATA[pi][key];
    let dstr="";
    D[0].forEach((d,i)=>{dstr+=(i?"L":"M")+xScale(a,D[1][i]).toFixed(1)+" "+yScale(pi,d).toFixed(1);});
    const ln=el("path",{d:dstr,fill:"none",stroke:LINECOL[key],"stroke-width":3,"stroke-linejoin":"round"},g);
    
    
  });
});

// legend
const LEG=[{x:630,fill:"#ffffff",stroke:"#404040"},{x:945,fill:"#cccccc",stroke:"none"},{x:1222,fill:"#e6e6e6",stroke:"none"}];
const lg=el("g",{});


LEG.forEach((L,i)=>{
  const r=el("rect",{x:L.x,y:3940,width:63,height:32,fill:L.fill,stroke:L.stroke,"stroke-width":1.5},lg);
  
  
  const t=el("text",{x:L.x+78,y:3966,fill:"#000","font-size":"27"},lg);
  
  
  t.textContent=LEGEND_LABELS[i];
});
</script>
</body></html>
